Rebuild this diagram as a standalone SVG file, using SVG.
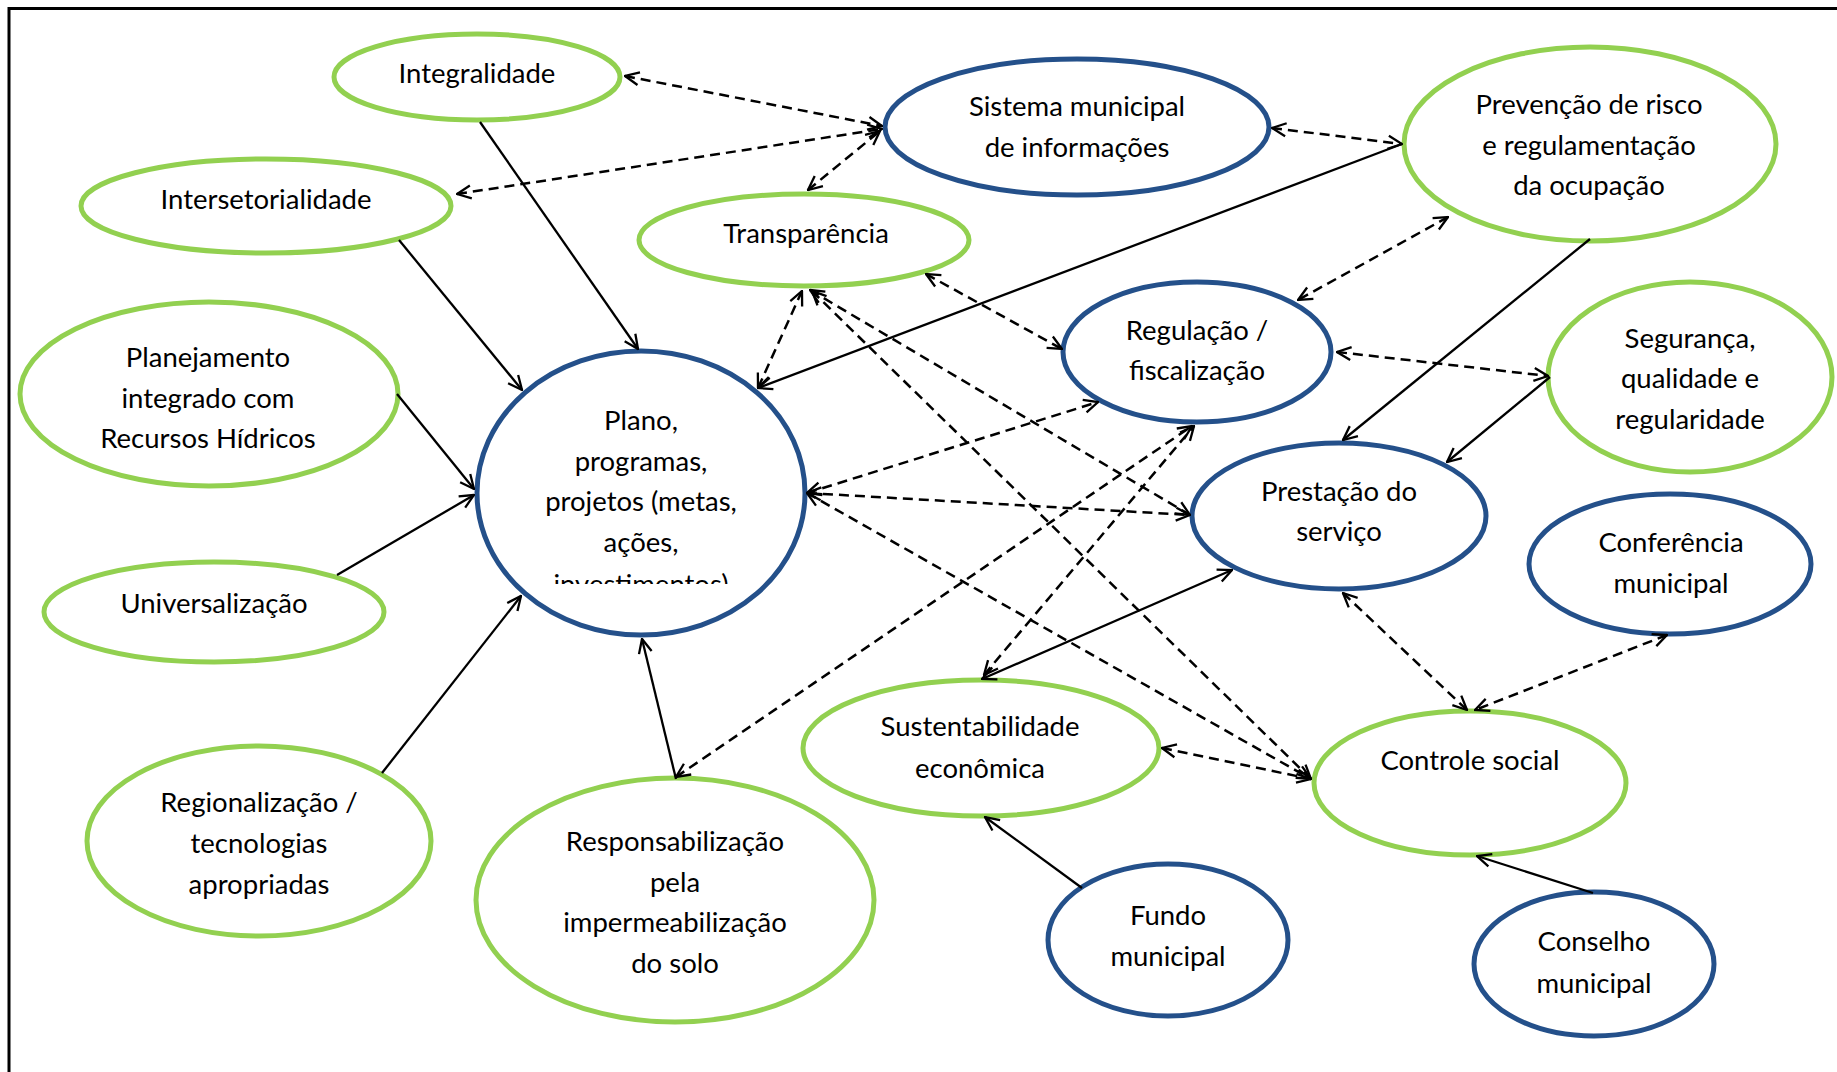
<svg xmlns="http://www.w3.org/2000/svg" width="1837" height="1072" viewBox="0 0 1837 1072">
<defs>
<style>
.g{fill:#fff;stroke:#92D050;stroke-width:5}
.b{fill:#fff;stroke:#24508A;stroke-width:5}
.t{font-family:Lato,"Liberation Sans",sans-serif;font-size:27.5px;fill:#000;text-anchor:middle}
.s{fill:none;stroke:#000;stroke-width:2.3}
.d{fill:none;stroke:#000;stroke-width:2.5;stroke-dasharray:10 6}
</style>
<marker id="ah" viewBox="0 0 16 16" refX="15" refY="8" markerWidth="16" markerHeight="16" markerUnits="userSpaceOnUse" orient="auto-start-reverse">
<path d="M1,1.5 L15,8 L1,14.5" fill="none" stroke="#000" stroke-width="2.3"/>
</marker>
<clipPath id="clipPlano"><rect x="470" y="380" width="340" height="204"/></clipPath>
</defs>
<rect width="1837" height="1072" fill="#fff"/>
<path d="M9,1072 V8.5 H1837" fill="none" stroke="#000" stroke-width="3"/>

<g id="integralidade"><ellipse class="g" cx="477" cy="77" rx="143" ry="43"/><text class="t" x="477" y="83">Integralidade</text></g>
<g id="intersetorialidade"><ellipse class="g" cx="266" cy="206" rx="185" ry="47"/><text class="t" x="266" y="209">Intersetorialidade</text></g>
<g id="planejamento"><ellipse class="g" cx="209" cy="394" rx="189" ry="92"/><text class="t" x="208" y="367">Planejamento</text><text class="t" x="208" y="408">integrado com</text><text class="t" x="208" y="448">Recursos Hídricos</text></g>
<g id="universalizacao"><ellipse class="g" cx="214" cy="612" rx="170" ry="50"/><text class="t" x="214" y="613">Universalização</text></g>
<g id="regionalizacao"><ellipse class="g" cx="259" cy="841" rx="172" ry="95"/><text class="t" x="259" y="812">Regionalização /</text><text class="t" x="259" y="853">tecnologias</text><text class="t" x="259" y="894">apropriadas</text></g>
<g id="responsabilizacao"><ellipse class="g" cx="675" cy="900" rx="199" ry="122"/><text class="t" x="675" y="851">Responsabilização</text><text class="t" x="675" y="892">pela</text><text class="t" x="675" y="932">impermeabilização</text><text class="t" x="675" y="973">do solo</text></g>
<g id="transparencia"><ellipse class="g" cx="804" cy="240" rx="165" ry="46"/><text class="t" x="806" y="243">Transparência</text></g>
<g id="plano"><ellipse class="b" cx="641" cy="493" rx="164" ry="142"/><g clip-path="url(#clipPlano)"><text class="t" x="641" y="430">Plano,</text><text class="t" x="641" y="471">programas,</text><text class="t" x="641" y="511">projetos (metas,</text><text class="t" x="641" y="552">ações,</text><text class="t" x="641" y="594">investimentos)</text></g></g>
<g id="sistema"><ellipse class="b" cx="1077" cy="127" rx="192" ry="68"/><text class="t" x="1077" y="116">Sistema municipal</text><text class="t" x="1077" y="157">de informações</text></g>
<g id="prevencao"><ellipse class="g" cx="1590" cy="144" rx="186" ry="97"/><text class="t" x="1589" y="114">Prevenção de risco</text><text class="t" x="1589" y="155">e regulamentação</text><text class="t" x="1589" y="195">da ocupação</text></g>
<g id="regulacao"><ellipse class="b" cx="1197" cy="352" rx="134" ry="70"/><text class="t" x="1197" y="340">Regulação /</text><text class="t" x="1197" y="380">fiscalização</text></g>
<g id="seguranca"><ellipse class="g" cx="1690" cy="377" rx="142" ry="95"/><text class="t" x="1690" y="348">Segurança,</text><text class="t" x="1690" y="388">qualidade e</text><text class="t" x="1690" y="429">regularidade</text></g>
<g id="prestacao"><ellipse class="b" cx="1339" cy="516" rx="147" ry="73"/><text class="t" x="1339" y="501">Prestação do</text><text class="t" x="1339" y="541">serviço</text></g>
<g id="conferencia"><ellipse class="b" cx="1670" cy="564" rx="141" ry="70"/><text class="t" x="1671" y="552">Conferência</text><text class="t" x="1671" y="593">municipal</text></g>
<g id="sustentabilidade"><ellipse class="g" cx="981" cy="748" rx="178" ry="68"/><text class="t" x="980" y="736">Sustentabilidade</text><text class="t" x="980" y="778">econômica</text></g>
<g id="controle"><ellipse class="g" cx="1470" cy="783" rx="156" ry="72"/><text class="t" x="1470" y="770">Controle social</text></g>
<g id="fundo"><ellipse class="b" cx="1168" cy="940" rx="120" ry="76"/><text class="t" x="1168" y="925">Fundo</text><text class="t" x="1168" y="966">municipal</text></g>
<g id="conselho"><ellipse class="b" cx="1594" cy="964" rx="120" ry="72"/><text class="t" x="1594" y="951">Conselho</text><text class="t" x="1594" y="993">municipal</text></g>

<g id="connectors">
<g marker-end="url(#ah)">
<line class="s" x1="480" y1="122" x2="638" y2="349"/>
<line class="s" x1="399" y1="240" x2="522" y2="390"/>
<line class="s" x1="397" y1="394" x2="474" y2="489"/>
<line class="s" x1="337" y1="575" x2="474" y2="495"/>
<line class="s" x1="382" y1="773" x2="521" y2="596"/>
<line class="s" x1="676" y1="779" x2="642" y2="639"/>
<line class="s" x1="1402" y1="144" x2="758" y2="388"/>
<line class="s" x1="1590" y1="239" x2="1343" y2="440"/>
<line class="s" x1="1550" y1="377" x2="1447" y2="462"/>
<line class="s" x1="1082" y1="888" x2="985" y2="817"/>
<line class="s" x1="1593" y1="893" x2="1477" y2="856"/>
</g>
<g marker-start="url(#ah)" marker-end="url(#ah)">
<line class="s" x1="982" y1="679" x2="1232" y2="570"/>
<line class="d" x1="625" y1="76" x2="882" y2="126"/>
<line class="d" x1="457" y1="194" x2="882" y2="129"/>
<line class="d" x1="808" y1="190" x2="880" y2="131"/>
<line class="d" x1="1272" y1="128" x2="1402" y2="144"/>
<line class="d" x1="802" y1="291" x2="758" y2="388"/>
<line class="d" x1="926" y1="274" x2="1062" y2="349"/>
<line class="d" x1="810" y1="290" x2="1190" y2="515"/>
<line class="d" x1="812" y1="291" x2="1311" y2="779"/>
<line class="d" x1="807" y1="493" x2="1098" y2="402"/>
<line class="d" x1="807" y1="493" x2="1190" y2="515"/>
<line class="d" x1="807" y1="493" x2="1311" y2="779"/>
<line class="d" x1="676" y1="777" x2="1192" y2="426"/>
<line class="d" x1="984" y1="675" x2="1194" y2="426"/>
<line class="d" x1="1448" y1="217" x2="1298" y2="300"/>
<line class="d" x1="1337" y1="352" x2="1548" y2="376"/>
<line class="d" x1="1343" y1="593" x2="1467" y2="710"/>
<line class="d" x1="1667" y1="635" x2="1475" y2="710"/>
<line class="d" x1="1162" y1="748" x2="1311" y2="779"/>
</g>
</g>
</svg>
